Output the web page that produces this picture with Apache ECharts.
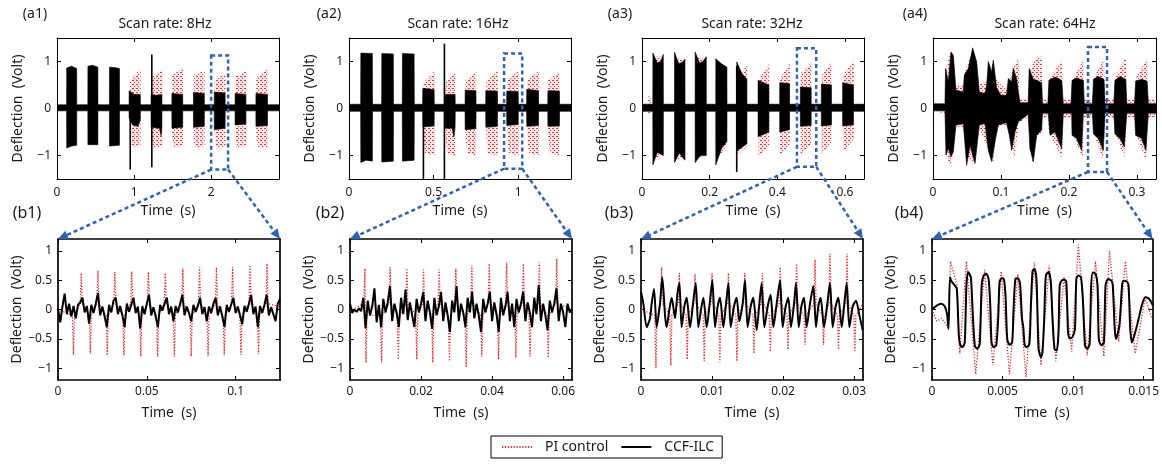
<!DOCTYPE html>
<html><head><meta charset="utf-8">
<script src="https://cdn.jsdelivr.net/npm/echarts@6/dist/echarts.min.js"></script>
<style>html,body{margin:0;padding:0;background:#fff}#c{width:1162px;height:464px}</style>
</head><body><div id="c"></div>
<script>
// ================= DATA =================
const panelTitles = ['Scan rate: 8Hz', 'Scan rate: 16Hz', 'Scan rate: 32Hz', 'Scan rate: 64Hz'];
const topLabels = ['(a1)', '(a2)', '(a3)', '(a4)'];
const bottomLabels = ['(b1)', '(b2)', '(b3)', '(b4)'];
const legendNames = ['PI control', 'CCF-ILC'];
const xName = 'Time  (s)';
const yName = 'Deflection  (Volt)';
const topXMax = [2.88, 1.3125, 0.65625, 0.328];
const bottomXMax = [0.125, 0.0625, 0.03125, 0.015625];
const topXTicks = [[0, 1, 2], [0, 0.5, 1], [0, 0.2, 0.4, 0.6], [0, 0.1, 0.2, 0.3]];
const bottomXTicks = [[0, 0.05, 0.1], [0, 0.02, 0.04, 0.06], [0, 0.01, 0.02, 0.03], [0, 0.005, 0.01, 0.015]];
const topYTicks = [-1, 0, 1];
const bottomYTicks = [-1, -0.5, 0, 0.5, 1];
// zoom windows drawn on the top panels: [t0, t1, vLow, vHigh]
const zoomBoxes = [[2.0, 2.22, -1.3, 1.13], [0.917, 1.024, -1.28, 1.17], [0.458, 0.515, -1.24, 1.28], [0.228, 0.256, -1.35, 1.31]];

// ---- (a1) 8 Hz : envelopes [t, volt]
const a1_ccfUpper = [[0,0.08],[0.125,0.08],[0.126,0.86],[0.19,0.9],[0.255,0.85],[0.256,0.08],[0.40,0.08],[0.401,0.9],[0.46,0.92],[0.53,0.88],[0.531,0.08],[0.68,0.08],[0.681,0.88],[0.75,0.87],[0.81,0.85],[0.811,0.08],[0.935,0.08],[0.936,0.38],[1.0,0.3],[1.08,0.3],[1.081,0.08],[1.22,0.08],[1.221,0.3],[1.29,0.28],[1.36,0.3],[1.361,0.08],[1.49,0.08],[1.491,0.32],[1.63,0.3],[1.631,0.08],[1.77,0.08],[1.771,0.34],[1.91,0.32],[1.911,0.08],[2.04,0.08],[2.041,0.35],[2.18,0.33],[2.181,0.08],[2.31,0.08],[2.311,0.32],[2.45,0.3],[2.451,0.08],[2.58,0.08],[2.581,0.32],[2.73,0.3],[2.731,0.08],[2.88,0.08]];
const a1_ccfLower = [[0,-0.05],[0.125,-0.05],[0.126,-0.84],[0.19,-0.8],[0.255,-0.78],[0.256,-0.05],[0.40,-0.05],[0.401,-0.77],[0.53,-0.77],[0.531,-0.05],[0.68,-0.05],[0.681,-0.8],[0.81,-0.78],[0.811,-0.05],[0.935,-0.05],[0.936,-0.2],[0.98,-0.35],[1.05,-0.38],[1.08,-0.25],[1.081,-0.05],[1.22,-0.05],[1.221,-0.4],[1.33,-0.42],[1.35,-0.58],[1.36,-0.4],[1.361,-0.05],[1.49,-0.05],[1.491,-0.42],[1.63,-0.4],[1.631,-0.05],[1.77,-0.05],[1.771,-0.4],[1.91,-0.38],[1.911,-0.05],[2.04,-0.05],[2.041,-0.45],[2.18,-0.42],[2.181,-0.05],[2.31,-0.05],[2.311,-0.35],[2.45,-0.33],[2.451,-0.05],[2.58,-0.05],[2.581,-0.38],[2.73,-0.36],[2.731,-0.05],[2.88,-0.05]];
const a1_piUpper = [[0,0.03],[0.13,0.03],[0.131,0.82],[0.25,0.82],[0.251,0.03],[0.405,0.03],[0.406,0.85],[0.525,0.85],[0.526,0.03],[0.685,0.03],[0.686,0.84],[0.805,0.82],[0.806,0.03],[0.945,0.03],[0.946,0.6],[1.085,0.85],[1.086,0.03],[1.225,0.03],[1.226,0.66],[1.365,0.84],[1.366,0.03],[1.495,0.03],[1.496,0.7],[1.635,0.87],[1.636,0.03],[1.77,0.03],[1.771,0.72],[1.915,0.8],[1.916,0.03],[2.045,0.03],[2.046,0.6],[2.185,0.75],[2.186,0.03],[2.315,0.03],[2.316,0.68],[2.455,0.8],[2.456,0.03],[2.585,0.03],[2.586,0.66],[2.735,0.84],[2.736,0.03],[2.88,0.03]];
const a1_piLower = [[0,-0.04],[0.13,-0.04],[0.131,-0.8],[0.25,-0.76],[0.251,-0.04],[0.405,-0.04],[0.406,-0.75],[0.525,-0.75],[0.526,-0.04],[0.685,-0.04],[0.686,-0.78],[0.805,-0.76],[0.806,-0.04],[0.945,-0.04],[0.946,-0.5],[0.97,-0.82],[1.085,-0.78],[1.086,-0.04],[1.225,-0.04],[1.226,-0.55],[1.25,-0.85],[1.365,-0.8],[1.366,-0.04],[1.495,-0.04],[1.496,-0.6],[1.52,-0.82],[1.635,-0.8],[1.636,-0.04],[1.77,-0.04],[1.771,-0.6],[1.79,-0.84],[1.915,-0.8],[1.916,-0.04],[2.045,-0.04],[2.046,-0.6],[2.07,-0.85],[2.185,-0.8],[2.186,-0.04],[2.315,-0.04],[2.316,-0.6],[2.34,-0.82],[2.455,-0.8],[2.456,-0.04],[2.585,-0.04],[2.586,-0.6],[2.61,-0.85],[2.735,-0.82],[2.736,-0.04],[2.88,-0.04]];
const a1_spikes = [[0.95, 0.3, -1.3], [1.23, 1.15, -1.25]];

// ---- (a2) 16 Hz
const a2_ccfUpper = [[0,0.09],[0.069,0.09],[0.07,1.18],[0.138,1.17],[0.139,0.09],[0.193,0.09],[0.194,1.17],[0.262,1.16],[0.263,0.09],[0.315,0.09],[0.316,1.17],[0.385,1.16],[0.386,0.09],[0.436,0.09],[0.437,0.43],[0.503,0.4],[0.504,0.09],[0.568,0.09],[0.569,0.3],[0.627,0.3],[0.628,0.09],[0.686,0.09],[0.687,0.39],[0.75,0.38],[0.751,0.09],[0.808,0.09],[0.809,0.38],[0.877,0.37],[0.878,0.09],[0.932,0.09],[0.933,0.37],[1.0,0.36],[1.001,0.09],[1.05,0.09],[1.051,0.41],[1.12,0.38],[1.121,0.09],[1.175,0.09],[1.176,0.38],[1.244,0.37],[1.245,0.09],[1.3125,0.09]];
const a2_ccfLower = [[0,-0.06],[0.069,-0.06],[0.07,-1.15],[0.1,-1.1],[0.138,-1.12],[0.139,-0.06],[0.193,-0.06],[0.194,-1.14],[0.262,-1.12],[0.263,-0.06],[0.315,-0.06],[0.316,-1.12],[0.385,-1.1],[0.386,-0.06],[0.436,-0.06],[0.437,-0.39],[0.503,-0.37],[0.504,-0.06],[0.568,-0.06],[0.569,-0.42],[0.61,-0.42],[0.62,-0.6],[0.627,-0.4],[0.628,-0.06],[0.686,-0.06],[0.687,-0.45],[0.75,-0.43],[0.751,-0.06],[0.808,-0.06],[0.809,-0.4],[0.877,-0.38],[0.878,-0.06],[0.932,-0.06],[0.933,-0.36],[1.0,-0.34],[1.001,-0.06],[1.05,-0.06],[1.051,-0.38],[1.12,-0.36],[1.121,-0.06],[1.175,-0.06],[1.176,-0.38],[1.244,-0.37],[1.245,-0.06],[1.3125,-0.06]];
const a2_piUpper = [[0,0.0],[0.07,0.0],[0.071,1.1],[0.137,1.1],[0.138,0.0],[0.194,0.0],[0.195,1.1],[0.261,1.1],[0.262,0.0],[0.316,0.0],[0.317,1.1],[0.384,1.1],[0.385,0.0],[0.438,0.0],[0.439,0.55],[0.505,0.8],[0.506,0.0],[0.57,0.0],[0.571,0.55],[0.63,0.8],[0.631,0.0],[0.688,0.0],[0.689,0.6],[0.752,0.8],[0.753,0.0],[0.81,0.0],[0.811,0.6],[0.879,0.8],[0.88,0.0],[0.934,0.0],[0.935,0.6],[1.002,0.8],[1.003,0.0],[1.052,0.0],[1.053,0.6],[1.122,0.8],[1.123,0.0],[1.177,0.0],[1.178,0.6],[1.246,0.8],[1.247,0.0],[1.3125,0.0]];
const a2_piLower = [[0,-0.06],[0.07,-0.06],[0.071,-1.05],[0.137,-1.05],[0.138,-0.06],[0.194,-0.06],[0.195,-1.05],[0.261,-1.05],[0.262,-0.06],[0.316,-0.06],[0.317,-1.05],[0.384,-1.05],[0.385,-0.06],[0.438,-0.06],[0.439,-0.6],[0.45,-0.95],[0.505,-1.0],[0.506,-0.06],[0.57,-0.06],[0.571,-0.6],[0.58,-0.95],[0.63,-1.0],[0.631,-0.06],[0.688,-0.06],[0.689,-0.6],[0.7,-0.95],[0.752,-1.0],[0.753,-0.06],[0.81,-0.06],[0.811,-0.6],[0.82,-0.95],[0.879,-1.0],[0.88,-0.06],[0.934,-0.06],[0.935,-0.6],[0.945,-0.95],[1.002,-1.0],[1.003,-0.06],[1.052,-0.06],[1.053,-0.6],[1.065,-0.95],[1.122,-1.0],[1.123,-0.06],[1.177,-0.06],[1.178,-0.6],[1.19,-0.95],[1.246,-1.0],[1.247,-0.06],[1.3125,-0.06]];
const a2_spikes = [[0.44, 0.4, -1.5], [0.564, 1.38, -1.5]];

// ---- (a3) 32 Hz
const a3_ccfUpper = [[0,0.09],[0.032,0.09],[0.0322,1.18],[0.045,0.97],[0.055,1.0],[0.063,1.15],[0.0632,0.09],[0.096,0.09],[0.0962,1.2],[0.108,0.95],[0.118,0.98],[0.127,1.05],[0.1272,0.09],[0.157,0.09],[0.1572,1.2],[0.17,0.97],[0.18,1.0],[0.19,1.1],[0.1902,0.09],[0.218,0.09],[0.2182,1.06],[0.235,0.95],[0.251,0.88],[0.2512,0.09],[0.28,0.09],[0.2802,0.99],[0.295,0.75],[0.31,0.62],[0.3102,0.09],[0.343,0.09],[0.3432,0.6],[0.375,0.5],[0.3752,0.09],[0.407,0.09],[0.4072,0.55],[0.436,0.53],[0.4362,0.09],[0.468,0.09],[0.4682,0.46],[0.5,0.44],[0.5002,0.09],[0.53,0.09],[0.5302,0.52],[0.56,0.5],[0.5602,0.09],[0.593,0.09],[0.5932,0.55],[0.625,0.5],[0.6252,0.09],[0.65625,0.09]];
const a3_ccfLower = [[0,-0.06],[0.032,-0.06],[0.0322,-1.2],[0.045,-0.93],[0.063,-1.0],[0.0632,-0.06],[0.096,-0.06],[0.0962,-1.15],[0.11,-0.95],[0.127,-1.1],[0.1272,-0.06],[0.157,-0.06],[0.1572,-1.15],[0.172,-1.0],[0.19,-1.0],[0.1902,-0.06],[0.218,-0.06],[0.2182,-1.2],[0.235,-0.85],[0.251,-0.7],[0.2512,-0.06],[0.28,-0.06],[0.2802,-0.9],[0.31,-0.75],[0.3102,-0.06],[0.343,-0.06],[0.3432,-0.6],[0.375,-0.5],[0.3752,-0.06],[0.407,-0.06],[0.4072,-0.5],[0.436,-0.45],[0.4362,-0.06],[0.468,-0.06],[0.4682,-0.38],[0.5,-0.36],[0.5002,-0.06],[0.53,-0.06],[0.5302,-0.37],[0.56,-0.35],[0.5602,-0.06],[0.593,-0.06],[0.5932,-0.37],[0.625,-0.35],[0.6252,-0.06],[0.65625,-0.06]];
const a3_piUpper = [[0,0.11],[0.018,0.11],[0.019,0.28],[0.026,0.2],[0.027,0.11],[0.033,0.11],[0.0332,1.1],[0.062,1.1],[0.0622,0.11],[0.097,0.11],[0.0972,1.1],[0.126,1.0],[0.1262,0.11],[0.158,0.11],[0.1582,1.1],[0.189,1.05],[0.1892,0.11],[0.219,0.11],[0.2192,1.0],[0.25,0.85],[0.2502,0.11],[0.281,0.11],[0.2812,0.65],[0.311,0.92],[0.3112,0.11],[0.344,0.11],[0.3442,0.6],[0.376,0.95],[0.3762,0.11],[0.408,0.11],[0.4082,0.65],[0.437,0.97],[0.4372,0.11],[0.469,0.11],[0.4692,0.75],[0.501,0.98],[0.5012,0.11],[0.531,0.11],[0.5312,0.7],[0.561,1.0],[0.5612,0.11],[0.594,0.11],[0.5942,0.7],[0.626,1.02],[0.6262,0.11],[0.65625,0.11]];
const a3_piLower = [[0,0.02],[0.018,0.02],[0.019,-0.14],[0.026,-0.1],[0.027,0.02],[0.033,0.02],[0.0332,-1.1],[0.062,-0.95],[0.0622,0.02],[0.097,0.02],[0.0972,-1.1],[0.126,-1.05],[0.1262,0.02],[0.158,0.02],[0.1582,-1.1],[0.189,-0.95],[0.1892,0.02],[0.219,0.02],[0.2192,-1.1],[0.25,-0.8],[0.2502,0.02],[0.281,0.02],[0.2812,-1.0],[0.311,-0.8],[0.3112,0.02],[0.344,0.02],[0.3442,-1.0],[0.376,-0.8],[0.3762,0.02],[0.408,0.02],[0.4082,-1.0],[0.437,-0.75],[0.4372,0.02],[0.469,0.02],[0.4692,-1.0],[0.501,-0.75],[0.5012,0.02],[0.531,0.02],[0.5312,-0.95],[0.561,-0.7],[0.5612,0.02],[0.594,0.02],[0.5942,-0.92],[0.626,-0.65],[0.6262,0.02],[0.65625,0.02]];
const a3_spikes = [[0.28, 0.9, -1.35]];

// ---- (a4) 64 Hz
const a4_ccfUpper = [[0,0.1],[0.0176,0.1],[0.0185,0.85],[0.0225,0.57],[0.0265,1.2],[0.0299,1.13],[0.0338,0.39],[0.0446,0.35],[0.046,0.71],[0.052,0.85],[0.0583,1.29],[0.0642,0.99],[0.0681,0.35],[0.0765,0.32],[0.079,0.5],[0.0814,1.0],[0.0863,0.78],[0.0887,1.03],[0.0936,0.43],[0.1,0.28],[0.108,0.28],[0.1108,0.64],[0.1157,0.57],[0.1181,0.85],[0.123,0.64],[0.1255,0.35],[0.128,0.12],[0.14,0.12],[0.1415,0.85],[0.1475,0.62],[0.1525,0.6],[0.1598,0.55],[0.161,0.1],[0.169,0.1],[0.1705,0.6],[0.1794,0.67],[0.1892,0.6],[0.1917,0.1],[0.203,0.1],[0.2045,0.6],[0.2113,0.65],[0.2211,0.6],[0.2225,0.1],[0.2345,0.1],[0.236,0.62],[0.2431,0.68],[0.2515,0.62],[0.253,0.1],[0.266,0.1],[0.2676,0.6],[0.275,0.68],[0.2835,0.62],[0.285,0.1],[0.2965,0.1],[0.298,0.58],[0.3069,0.62],[0.315,0.58],[0.3167,0.1],[0.328,0.1]];
const a4_ccfLower = [[0,-0.05],[0.0176,-0.05],[0.0191,-0.99],[0.0225,-0.85],[0.0265,-1.03],[0.0299,-0.92],[0.0338,-0.35],[0.0446,-0.32],[0.0495,-1.21],[0.0544,-0.78],[0.0583,-0.99],[0.0618,-1.17],[0.0681,-0.35],[0.0765,-0.32],[0.0814,-0.89],[0.0863,-1.13],[0.0912,-0.71],[0.096,-0.35],[0.108,-0.3],[0.1123,-0.57],[0.1157,-0.89],[0.1206,-0.5],[0.1255,-0.28],[0.14,-0.12],[0.1426,-0.85],[0.1475,-1.13],[0.1525,-0.57],[0.1598,-0.46],[0.161,-0.1],[0.1696,-0.1],[0.1721,-0.57],[0.1794,-0.5],[0.1892,-0.85],[0.1917,-0.1],[0.204,-0.1],[0.2045,-0.57],[0.2113,-0.64],[0.2186,-0.89],[0.2211,-0.1],[0.2345,-0.1],[0.236,-0.54],[0.2431,-0.64],[0.2505,-0.89],[0.253,-0.1],[0.266,-0.1],[0.2676,-0.54],[0.275,-0.64],[0.2814,-0.82],[0.285,-0.1],[0.2965,-0.1],[0.298,-0.57],[0.3069,-0.64],[0.3132,-0.89],[0.3167,-0.1],[0.328,-0.1]];
const a4_piUpper = [[0,0.05],[0.0176,0.1],[0.018,0.8],[0.0265,1.25],[0.03,1.1],[0.034,0.5],[0.0446,0.5],[0.047,0.8],[0.0583,1.25],[0.0642,1.03],[0.0681,0.5],[0.079,0.6],[0.0887,1.0],[0.0936,0.6],[0.108,0.4],[0.1181,0.9],[0.1255,1.07],[0.128,0.2],[0.14,0.2],[0.1415,0.8],[0.1525,1.1],[0.1598,1.1],[0.161,0.2],[0.169,0.2],[0.1705,0.6],[0.1892,1.03],[0.1917,0.2],[0.203,0.2],[0.2045,0.6],[0.2211,1.03],[0.2225,0.2],[0.2345,0.2],[0.236,0.65],[0.2515,1.05],[0.253,0.2],[0.266,0.2],[0.2676,0.65],[0.2835,1.1],[0.285,0.2],[0.2965,0.2],[0.298,0.65],[0.315,1.06],[0.3167,0.2],[0.328,0.2]];
const a4_piLower = [[0,-0.05],[0.0176,-0.1],[0.019,-1.0],[0.0265,-1.24],[0.0338,-0.4],[0.0446,-0.4],[0.0495,-1.0],[0.0583,-1.2],[0.0681,-0.4],[0.0814,-0.9],[0.0887,-1.15],[0.0936,-0.4],[0.108,-0.35],[0.1157,-0.8],[0.1206,-1.05],[0.1255,-0.3],[0.14,-0.2],[0.1426,-0.9],[0.1475,-1.2],[0.1525,-0.6],[0.1598,-0.5],[0.161,-0.2],[0.169,-0.2],[0.1705,-0.5],[0.1892,-1.05],[0.1917,-0.2],[0.203,-0.2],[0.2045,-0.5],[0.2211,-1.08],[0.2225,-0.2],[0.2345,-0.2],[0.236,-0.5],[0.2505,-1.1],[0.253,-0.2],[0.266,-0.2],[0.2676,-0.5],[0.2814,-1.05],[0.285,-0.2],[0.2965,-0.2],[0.298,-0.5],[0.3132,-1.1],[0.3167,-0.2],[0.328,-0.2]];
const a4_spikes = [];

// ---- (b1) zoom of 8 Hz: [t, volt]
const b1_ccf = [[0,0.02],[0.00125,-0.22],[0.0025,0.05],[0.00375,0.27],[0.005,-0.08],[0.00625,0.1],[0.0075,-0.12],[0.00875,0.06],[0.01,-0.15],[0.01125,0.08],[0.0125,0.12],[0.01375,0.2],[0.015,-0.05],[0.01625,0.06],[0.0175,-0.24],[0.01875,0.08],[0.02,-0.06],[0.02125,0.1],[0.0225,0.28],[0.02375,-0.1],[0.025,0.05],[0.02625,-0.12],[0.0275,-0.3],[0.02875,0.08],[0.03,-0.05],[0.03125,0.15],[0.0325,0.2],[0.03375,-0.08],[0.035,0.06],[0.03625,-0.1],[0.0375,-0.3],[0.03875,0.1],[0.04,-0.04],[0.04125,0.08],[0.0425,0.2],[0.04375,-0.06],[0.045,0.05],[0.04625,-0.32],[0.0475,0.06],[0.04875,-0.08],[0.05,0.1],[0.05125,0.25],[0.0525,-0.1],[0.05375,0.04],[0.055,-0.12],[0.05625,-0.3],[0.0575,0.08],[0.05875,-0.02],[0.06,0.1],[0.06125,0.2],[0.0625,-0.08],[0.06375,0.05],[0.065,-0.2],[0.06625,0.06],[0.0675,-0.05],[0.06875,0.1],[0.07,0.25],[0.07125,-0.1],[0.0725,0.05],[0.07375,-0.06],[0.075,-0.2],[0.07625,0.08],[0.0775,-0.04],[0.07875,0.06],[0.08,0.2],[0.08125,-0.08],[0.0825,0.04],[0.08375,-0.2],[0.085,0.05],[0.08625,-0.06],[0.0875,0.1],[0.08875,0.2],[0.09,-0.1],[0.09125,0.05],[0.0925,-0.12],[0.09375,-0.3],[0.095,0.08],[0.09625,-0.04],[0.0975,0.08],[0.09875,0.2],[0.1,-0.06],[0.10125,0.05],[0.1025,-0.1],[0.10375,-0.25],[0.105,0.06],[0.10625,-0.04],[0.1075,0.1],[0.10875,0.25],[0.11,-0.08],[0.11125,0.05],[0.1125,-0.3],[0.11375,0.06],[0.115,-0.06],[0.11625,0.08],[0.1175,0.25],[0.11875,-0.1],[0.12,0.04],[0.12125,-0.08],[0.1225,-0.2],[0.12375,0.1],[0.125,0.18]];
const b1_pi = [[0,0],[0.0081,-0.1],[0.0087,-0.77],[0.0093,-0.1],[0.0125,0.1],[0.0131,0.62],[0.0137,0.1],[0.0176,-0.1],[0.0182,-0.75],[0.0188,-0.1],[0.0219,0.1],[0.0225,0.66],[0.0231,0.1],[0.0271,-0.1],[0.0277,-0.78],[0.0283,-0.1],[0.0314,0.1],[0.032,0.64],[0.0326,0.1],[0.0365,-0.1],[0.0371,-0.78],[0.0377,-0.1],[0.0409,0.1],[0.0415,0.65],[0.0421,0.1],[0.046,-0.1],[0.0466,-0.8],[0.0472,-0.1],[0.0503,0.1],[0.0509,0.64],[0.0515,0.1],[0.0555,-0.1],[0.0561,-0.8],[0.0567,-0.1],[0.0598,0.1],[0.0604,0.62],[0.061,0.1],[0.0649,-0.1],[0.0655,-0.8],[0.0661,-0.1],[0.0697,0.1],[0.0703,0.7],[0.0709,0.1],[0.0744,-0.1],[0.075,-0.8],[0.0756,-0.1],[0.0791,0.1],[0.0797,0.72],[0.0803,0.1],[0.0839,-0.1],[0.0845,-0.79],[0.0851,-0.1],[0.0886,0.1],[0.0892,0.72],[0.0898,0.1],[0.093,-0.1],[0.0936,-0.78],[0.0942,-0.1],[0.0977,0.1],[0.0983,0.72],[0.0989,0.1],[0.1024,-0.1],[0.103,-0.77],[0.1036,-0.1],[0.1075,0.1],[0.1081,0.76],[0.1087,0.1],[0.1123,-0.1],[0.1129,-0.76],[0.1135,-0.1],[0.1171,0.1],[0.1177,0.78],[0.1183,0.1],[0.125,0.05]];

// ---- (b2) zoom of 16 Hz
const b2_ccf = [[0,0.1],[0.000625,-0.06],[0.00125,0.0],[0.001875,-0.04],[0.0025,0.02],[0.003125,-0.03],[0.00375,0.2],[0.004375,-0.32],[0.005,0.15],[0.005625,-0.1],[0.00625,0.05],[0.006875,0.36],[0.0075,-0.22],[0.008125,0.08],[0.00875,-0.3],[0.009375,0.18],[0.01,-0.05],[0.010625,0.12],[0.01125,0.4],[0.011875,-0.2],[0.0125,0.1],[0.013125,-0.05],[0.01375,-0.3],[0.014375,0.2],[0.015,-0.08],[0.015625,0.34],[0.01625,-0.18],[0.016875,0.12],[0.0175,-0.1],[0.018125,-0.3],[0.01875,0.18],[0.019375,-0.05],[0.02,0.1],[0.020625,0.3],[0.02125,-0.2],[0.021875,0.15],[0.0225,-0.05],[0.023125,-0.33],[0.02375,0.2],[0.024375,-0.1],[0.025,0.05],[0.025625,0.3],[0.02625,-0.2],[0.026875,0.12],[0.0275,-0.1],[0.028125,-0.38],[0.02875,0.15],[0.029375,-0.05],[0.03,0.4],[0.030625,-0.2],[0.03125,0.1],[0.031875,-0.05],[0.0325,-0.3],[0.033125,0.2],[0.03375,-0.05],[0.034375,0.3],[0.035,-0.15],[0.035625,0.1],[0.03625,-0.1],[0.036875,-0.38],[0.0375,0.18],[0.038125,-0.05],[0.03875,0.1],[0.039375,0.3],[0.04,-0.2],[0.040625,0.12],[0.04125,-0.08],[0.041875,-0.38],[0.0425,0.2],[0.043125,-0.1],[0.04375,0.05],[0.044375,0.3],[0.045,-0.2],[0.045625,0.1],[0.04625,-0.3],[0.046875,0.18],[0.0475,-0.05],[0.048125,0.1],[0.04875,0.3],[0.049375,-0.2],[0.05,0.12],[0.050625,-0.05],[0.05125,-0.3],[0.051875,0.2],[0.0525,-0.08],[0.053125,0.42],[0.05375,-0.2],[0.054375,0.1],[0.055,-0.1],[0.055625,-0.35],[0.05625,0.15],[0.056875,-0.05],[0.0575,0.1],[0.058125,0.36],[0.05875,-0.2],[0.059375,0.1],[0.06,-0.05],[0.060625,-0.3],[0.06125,0.1],[0.061875,-0.05],[0.0625,0.0]];
const b2_pi = [[0,-0.02],[0.0039,0.1],[0.0042,0.7],[0.0043,0.0],[0.0045,-0.9],[0.0048,-0.1],[0.0086,-0.1],[0.0089,-0.9],[0.0092,-0.1],[0.011,0.1],[0.0113,0.72],[0.0116,0.1],[0.0133,-0.1],[0.0136,-0.85],[0.0139,-0.1],[0.0157,0.1],[0.016,0.7],[0.0163,0.1],[0.0185,-0.1],[0.0188,-0.85],[0.0191,-0.1],[0.0204,0.1],[0.0207,0.68],[0.021,0.1],[0.023,-0.1],[0.0233,-0.9],[0.0236,-0.1],[0.0248,0.1],[0.0251,0.68],[0.0254,0.1],[0.0277,-0.1],[0.028,-0.88],[0.0283,-0.1],[0.0295,0.1],[0.0298,0.7],[0.0301,0.1],[0.0324,-0.1],[0.0327,-0.98],[0.033,-0.1],[0.034,0.1],[0.0343,0.75],[0.0346,0.1],[0.0368,-0.1],[0.0371,-0.8],[0.0374,-0.1],[0.0389,0.1],[0.0392,0.78],[0.0395,0.1],[0.0415,-0.1],[0.0418,-0.85],[0.0421,-0.1],[0.0438,0.1],[0.0441,0.8],[0.0444,0.1],[0.0464,-0.1],[0.0467,-0.82],[0.047,-0.1],[0.0485,0.1],[0.0488,0.78],[0.0491,0.1],[0.0504,-0.1],[0.0507,-0.8],[0.051,-0.1],[0.053,0.1],[0.0533,0.8],[0.0536,0.1],[0.0555,-0.1],[0.0558,-0.82],[0.0561,-0.1],[0.0579,0.1],[0.0582,0.87],[0.0585,0.1],[0.0625,0.0]];

// ---- (b3) zoom of 32 Hz
const b3_ccf = [[0,0.3],[0.00033,0.1],[0.0008,-0.3],[0.00127,-0.15],[0.0015,0.1],[0.00183,0.35],[0.00221,-0.3],[0.00267,0.1],[0.003,0.55],[0.00338,-0.1],[0.00361,-0.3],[0.00399,0.0],[0.00432,0.2],[0.00479,-0.15],[0.00511,0.25],[0.0054,0.45],[0.00572,-0.3],[0.0061,0.05],[0.00643,0.2],[0.0069,-0.3],[0.00737,0.15],[0.0077,0.45],[0.00807,-0.3],[0.00845,0.0],[0.00878,0.2],[0.00925,-0.3],[0.00971,0.15],[0.01004,0.5],[0.01042,-0.3],[0.01079,0.05],[0.01112,0.2],[0.01159,-0.3],[0.01197,0.1],[0.0123,0.45],[0.01262,-0.3],[0.01309,0.05],[0.01346,0.2],[0.01384,-0.2],[0.01431,0.1],[0.01464,0.5],[0.01501,-0.3],[0.01544,0.05],[0.01581,0.2],[0.01628,-0.35],[0.01666,0.1],[0.01698,0.45],[0.01736,-0.3],[0.01783,0.05],[0.01825,0.25],[0.01863,-0.3],[0.0191,0.1],[0.01957,0.5],[0.01994,-0.3],[0.02036,0.05],[0.02074,0.2],[0.02111,-0.3],[0.02154,0.1],[0.02182,0.45],[0.0222,-0.3],[0.02257,0.05],[0.02294,0.2],[0.02332,-0.3],[0.02379,0.1],[0.02426,0.4],[0.02463,-0.3],[0.02496,0.05],[0.02529,0.2],[0.02576,-0.3],[0.02623,0.1],[0.0266,0.45],[0.02698,-0.3],[0.0274,0.05],[0.02778,0.2],[0.02825,-0.3],[0.02862,0.1],[0.02895,0.45],[0.02933,-0.3],[0.0298,0.05],[0.03027,0.15],[0.03074,-0.1],[0.03121,-0.35]];
const b3_pi = [[0,0.0],[0.00195,-0.1],[0.0021,-1.0],[0.00225,-0.1],[0.00275,0.1],[0.0029,0.72],[0.00305,0.1],[0.00405,-0.1],[0.0042,-0.95],[0.00435,-0.1],[0.00525,0.1],[0.0054,0.62],[0.00555,0.1],[0.00635,-0.1],[0.0065,-0.85],[0.00665,-0.1],[0.00745,0.1],[0.0076,0.6],[0.00775,0.1],[0.00875,-0.1],[0.0089,-0.88],[0.00905,-0.1],[0.00985,0.1],[0.01,0.62],[0.01015,0.1],[0.01095,-0.1],[0.0111,-0.9],[0.01125,-0.1],[0.01215,0.1],[0.0123,0.62],[0.01245,0.1],[0.01335,-0.1],[0.0135,-0.88],[0.01365,-0.1],[0.01445,0.1],[0.0146,0.62],[0.01475,0.1],[0.01575,-0.1],[0.0159,-0.75],[0.01605,-0.1],[0.01695,0.1],[0.0171,0.62],[0.01725,0.1],[0.01805,-0.1],[0.0182,-0.72],[0.01835,-0.1],[0.01945,0.1],[0.0196,0.72],[0.01975,0.1],[0.02055,-0.1],[0.0207,-0.68],[0.02085,-0.1],[0.02175,0.1],[0.0219,0.78],[0.02205,0.1],[0.02295,-0.1],[0.0231,-0.6],[0.02325,-0.1],[0.02435,0.1],[0.0245,0.85],[0.02465,0.1],[0.02555,-0.1],[0.0257,-0.6],[0.02585,-0.1],[0.02645,0.1],[0.0266,0.95],[0.02675,0.1],[0.02765,-0.1],[0.0278,-0.68],[0.02795,-0.1],[0.02885,0.1],[0.029,0.95],[0.02915,0.1],[0.02995,-0.1],[0.0301,-0.7],[0.03025,-0.1],[0.03125,0.1]];

// ---- (b4) zoom of 64 Hz
const b4_ccf = [[0,0],[0.00019,0.04],[0.00042,0.08],[0.00066,0.1],[0.00089,0.06],[0.00106,-0.07],[0.00117,-0.33],[0.00127,0.55],[0.00136,0.49],[0.0016,0.41],[0.00176,0.35],[0.0019,-0.44],[0.002,-0.6],[0.00216,-0.64],[0.00232,-0.56],[0.00244,0.41],[0.00256,0.64],[0.00275,0.55],[0.00286,0.07],[0.00303,-0.61],[0.0032,-0.67],[0.00338,-0.59],[0.00352,0.41],[0.00366,0.58],[0.00385,0.61],[0.00401,0.52],[0.00413,0.07],[0.00422,-0.56],[0.00436,-0.64],[0.00455,-0.61],[0.00469,-0.16],[0.00479,0.47],[0.00493,0.53],[0.00509,0.52],[0.00521,0.24],[0.00533,-0.5],[0.00549,-0.6],[0.00568,-0.56],[0.00577,-0.05],[0.00591,0.52],[0.0061,0.53],[0.00624,0.44],[0.00638,-0.16],[0.00647,-0.3],[0.00657,-0.61],[0.00671,-0.64],[0.0069,-0.59],[0.00701,0.07],[0.00713,0.66],[0.00727,0.69],[0.00741,0.49],[0.00755,-0.67],[0.00772,-0.81],[0.00783,-0.73],[0.00795,-0.16],[0.00807,0.58],[0.00826,0.64],[0.00842,0.47],[0.00854,-0.16],[0.00868,-0.67],[0.00884,-0.7],[0.00896,-0.41],[0.00905,0.41],[0.00919,0.49],[0.00936,0.51],[0.00952,0.47],[0.00964,-0.39],[0.00976,-0.49],[0.00995,-0.47],[0.01013,-0.33],[0.01023,0.52],[0.01037,0.58],[0.01056,0.55],[0.0107,0.13],[0.01084,-0.61],[0.011,-0.67],[0.01117,-0.59],[0.01128,0.41],[0.0114,0.63],[0.01159,0.61],[0.01173,0.41],[0.01182,-0.5],[0.01199,-0.61],[0.01218,-0.56],[0.0123,0.41],[0.01248,0.52],[0.01272,0.49],[0.01281,0.41],[0.01295,-0.33],[0.01304,-0.5],[0.01328,-0.27],[0.01347,0.41],[0.01358,0.49],[0.01382,0.47],[0.01393,0.41],[0.01405,-0.33],[0.01417,-0.56],[0.0144,-0.39],[0.01464,-0.16],[0.01487,0.07],[0.01511,0.21],[0.01534,0.19],[0.01553,0.13],[0.01565,0.07]];
const b4_pi = [[0,0.0],[0.00033,-0.2],[0.00068,-0.15],[0.00115,-0.3],[0.00131,0.82],[0.00178,0.4],[0.00197,-0.75],[0.00244,0.82],[0.0031,-1.1],[0.00373,0.68],[0.00432,-0.95],[0.0049,0.65],[0.00549,-1.1],[0.00608,0.6],[0.00666,-1.15],[0.00725,0.8],[0.00772,-0.95],[0.00831,0.75],[0.00877,-0.88],[0.00936,0.55],[0.0099,-0.72],[0.01037,1.1],[0.011,-0.78],[0.01159,0.82],[0.01218,-0.8],[0.01258,1.0],[0.01323,-0.55],[0.0137,0.82],[0.0144,-0.75],[0.01511,0.2],[0.01558,-0.15]];

// ================= CHART =================
const FONT = '"Noto Sans", "DejaVu Sans", sans-serif';
const TXT = '#1a1a1a';
const gridBoxes = [
  {left: 57, top: 38, width: 222, height: 141}, {left: 349, top: 38, width: 222, height: 141},
  {left: 642, top: 38, width: 222, height: 141}, {left: 933, top: 38, width: 223, height: 141},
  {left: 58, top: 239, width: 222, height: 141}, {left: 350, top: 239, width: 222, height: 141},
  {left: 641, top: 239, width: 222, height: 141}, {left: 932, top: 239, width: 222, height: 141}
];
const fmt = v => (v < 0 ? '\u2212' + Math.abs(v) : String(v));

const xAxes = [], yAxes = [];
for (let g = 0; g < 8; g++) {
  const isTop = g < 4, i = g % 4;
  const max = isTop ? topXMax[i] : bottomXMax[i];
  const xt = isTop ? topXTicks[i] : bottomXTicks[i];
  const yr = isTop ? 1.5 : 1.2;
  const yt = isTop ? topYTicks : bottomYTicks;
  const lw = isTop ? 1 : 1.7;
  const line = {show: true, onZero: false, lineStyle: {color: '#000', width: lw}};
  xAxes.push({type: 'value', gridIndex: g, min: 0, max, position: 'bottom', axisLine: line,
    axisTick: {show: true, inside: true, length: 4, customValues: xt, lineStyle: {color: '#000', width: 1}},
    axisLabel: {show: true, customValues: xt, formatter: fmt, margin: isTop ? 8 : 6, fontSize: 12, color: TXT, fontFamily: FONT},
    splitLine: {show: false}, name: xName, nameLocation: 'middle', nameGap: isTop ? 25 : 26,
    nameTextStyle: {fontSize: 14, color: TXT, fontFamily: FONT}});
  yAxes.push({type: 'value', gridIndex: g, min: -yr, max: yr, position: 'left', axisLine: line,
    axisTick: {show: true, inside: true, length: 4, customValues: yt, lineStyle: {color: '#000', width: 1}},
    axisLabel: {show: true, customValues: yt, formatter: fmt, margin: 6, fontSize: 12, color: TXT, fontFamily: FONT},
    splitLine: {show: false}, name: yName, nameLocation: 'middle', nameRotate: 90, nameGap: isTop ? 32 : 34,
    nameTextStyle: {fontSize: 14, color: TXT, fontFamily: FONT}});
}
for (let g = 0; g < 8; g++) {
  const isTop = g < 4, i = g % 4;
  const max = isTop ? topXMax[i] : bottomXMax[i];
  const xt = isTop ? topXTicks[i] : bottomXTicks[i];
  const yr = isTop ? 1.5 : 1.2;
  const yt = isTop ? topYTicks : bottomYTicks;
  const lw = isTop ? 1 : 1.7;
  const line = {show: true, onZero: false, lineStyle: {color: '#000', width: lw}};
  xAxes.push({type: 'value', gridIndex: g, min: 0, max, position: 'top', axisLine: line,
    axisTick: {show: true, inside: true, length: 4, customValues: xt, lineStyle: {color: '#000', width: 1}},
    axisLabel: {show: false}, splitLine: {show: false}});
  yAxes.push({type: 'value', gridIndex: g, min: -yr, max: yr, position: 'right', axisLine: line,
    axisTick: {show: true, inside: true, length: 4, customValues: yt, lineStyle: {color: '#000', width: 1}},
    axisLabel: {show: false}, splitLine: {show: false}});
}

function makeRedPattern() {
  const c = document.createElement('canvas'); c.width = 4; c.height = 4;
  const g = c.getContext('2d');
  g.fillStyle = 'rgba(255,200,200,0.45)'; g.fillRect(0, 0, 4, 4);
  g.fillStyle = 'rgba(238,30,30,0.9)'; g.fillRect(0, 0, 2, 1); g.fillRect(2, 2, 1, 1);
  return c;
}
const redPattern = {image: makeRedPattern(), repeat: 'repeat'};

function band(g, upper, lower, fill, z) {
  return {type: 'custom', xAxisIndex: g, yAxisIndex: g, z, silent: true, clip: true,
    data: [upper[0]],
    renderItem(params, api) {
      const pts = upper.map(p => api.coord(p));
      for (let k = lower.length - 1; k >= 0; k--) pts.push(api.coord(lower[k]));
      return {type: 'polygon', shape: {points: pts}, style: {fill, stroke: fill === '#000' ? '#000' : null, lineWidth: 0.6}};
    }};
}
function spikes(g, list) {
  return {type: 'custom', xAxisIndex: g, yAxisIndex: g, z: 4, silent: true, clip: true,
    data: list, encode: {x: 0, y: [1, 2]},
    renderItem(params, api) {
      const a = api.coord([api.value(0), api.value(1)]);
      const b = api.coord([api.value(0), api.value(2)]);
      return {type: 'line', shape: {x1: a[0], y1: a[1], x2: b[0], y2: b[1]}, style: {stroke: '#000', lineWidth: 1.6}};
    }};
}
function piLine(g, data) {
  return {type: 'line', name: legendNames[0], xAxisIndex: g, yAxisIndex: g, data, symbol: 'none', showSymbol: false,
    z: 2, clip: true, itemStyle: {color: '#f02020'}, lineStyle: {color: '#f02020', width: 1.3, type: [1.2, 1.7]}};
}
function ccfLine(g, data, smooth) {
  return {type: 'line', name: legendNames[1], xAxisIndex: g, yAxisIndex: g, data, symbol: 'none', showSymbol: false,
    z: 3, clip: true, smooth: smooth || false, itemStyle: {color: '#000'}, lineStyle: {color: '#000', width: 2}};
}

const topData = [
  [a1_piUpper, a1_piLower, a1_ccfUpper, a1_ccfLower, a1_spikes],
  [a2_piUpper, a2_piLower, a2_ccfUpper, a2_ccfLower, a2_spikes],
  [a3_piUpper, a3_piLower, a3_ccfUpper, a3_ccfLower, a3_spikes],
  [a4_piUpper, a4_piLower, a4_ccfUpper, a4_ccfLower, a4_spikes]
];
const series = [
  piLine(4, b1_pi), ccfLine(4, b1_ccf),
  piLine(5, b2_pi), ccfLine(5, b2_ccf),
  piLine(6, b3_pi), ccfLine(6, b3_ccf, 0.25),
  piLine(7, b4_pi), ccfLine(7, b4_ccf, 0.25)
];
topData.forEach((d, i) => {
  series.push(band(i, d[0], d[1], redPattern, 1));
  series.push(band(i, d[2], d[3], '#000', 3));
  if (d[4].length) series.push(spikes(i, d[4]));
});

const texts = [];
const titleCenters = [165, 458, 752, 1045];
panelTitles.forEach((t, i) => texts.push({type: 'text', x: titleCenters[i], y: 24, style: {text: t, fill: TXT, font: '14px ' + FONT, align: 'center', verticalAlign: 'middle'}}));
const topLabelX = [35, 329, 620, 915];
topLabels.forEach((t, i) => texts.push({type: 'text', x: topLabelX[i], y: 14, style: {text: t, fill: TXT, font: '14px ' + FONT, align: 'center', verticalAlign: 'middle'}}));
const botLabelX = [27, 330, 619, 909];
bottomLabels.forEach((t, i) => texts.push({type: 'text', x: botLabelX[i], y: 213, style: {text: t, fill: TXT, font: '16px ' + FONT, align: 'center', verticalAlign: 'middle'}}));

const option = {
  animation: false,
  backgroundColor: '#fff',
  grid: gridBoxes.map(b => Object.assign({containLabel: false}, b)),
  xAxis: xAxes, yAxis: yAxes, series,
  legend: {data: legendNames, left: 491, top: 436, orient: 'horizontal', itemWidth: 30, itemHeight: 10, itemGap: 12,
    borderColor: '#000', borderWidth: 1, padding: [4, 8, 4, 10], selectedMode: false,
    itemStyle: {opacity: 0, borderWidth: 0},
    textStyle: {fontSize: 14, color: TXT, fontFamily: FONT, padding: [0, 0, 0, 8]}},
  graphic: texts
};
const chart = echarts.init(document.getElementById('c'), null, {renderer: 'canvas', width: 1162, height: 464});
chart.setOption(option);

// dashed zoom windows + connectors with arrowheads
const BLUE = '#2d62b5';
const extra = [];
function arrow(from, to) {
  const dx = to[0] - from[0], dy = to[1] - from[1];
  const L = Math.hypot(dx, dy), ux = dx / L, uy = dy / L;
  const hl = 10, hw = 4.5;
  const bx = to[0] - ux * hl, by = to[1] - uy * hl;
  extra.push({type: 'line', z: 100, shape: {x1: from[0], y1: from[1], x2: bx, y2: by},
    style: {stroke: BLUE, lineWidth: 2.5, lineDash: [4, 3]}});
  extra.push({type: 'polygon', z: 100, shape: {points: [to, [bx - uy * hw, by + ux * hw], [bx + uy * hw, by - ux * hw]]},
    style: {fill: BLUE}});
}
zoomBoxes.forEach((bx, i) => {
  const tl = chart.convertToPixel({gridIndex: i}, [bx[0], bx[3]]);
  const br = chart.convertToPixel({gridIndex: i}, [bx[1], bx[2]]);
  extra.push({type: 'rect', z: 100, shape: {x: tl[0], y: tl[1], width: br[0] - tl[0], height: br[1] - tl[1]},
    style: {fill: 'none', stroke: BLUE, lineWidth: 2.5, lineDash: [4, 3]}});
  const tgtL = chart.convertToPixel({gridIndex: 4 + i}, [0, 1.2]);
  const tgtR = chart.convertToPixel({gridIndex: 4 + i}, [bottomXMax[i], 1.2]);
  arrow([tl[0], br[1]], tgtL);
  arrow([br[0], br[1]], tgtR);
});
chart.setOption({graphic: texts.concat(extra)});
</script></body></html>
